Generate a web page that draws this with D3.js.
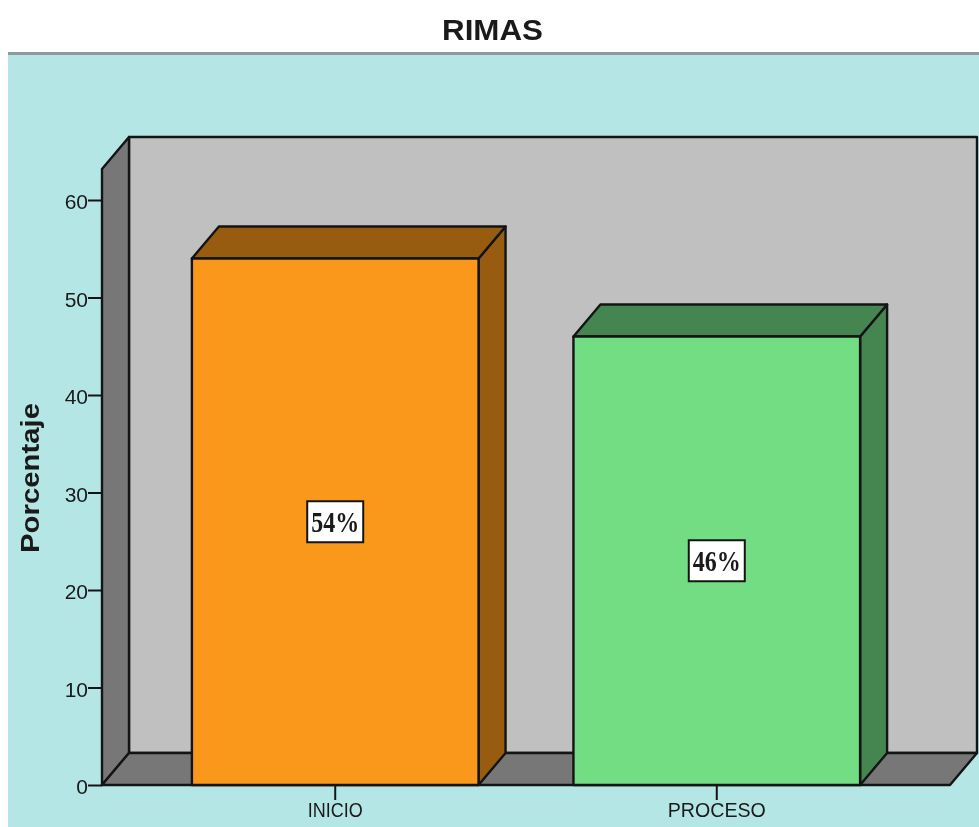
<!DOCTYPE html>
<html>
<head>
<meta charset="utf-8">
<script src="https://cdn.jsdelivr.net/npm/d3@7"></script>
<style>
html,body{margin:0;padding:0;background:#fff;overflow:hidden}
svg{display:block;filter:blur(0.45px)}
text{font-family:"Liberation Sans",Arial,sans-serif;fill:#1a1a1a}
</style>
</head>
<body>
<svg id="c" width="979" height="827"></svg>
<script>
const categories = ["INICIO", "PROCESO"];
const values = [54, 46];
const labels = ["54%", "46%"];
const yTicks = [0, 10, 20, 30, 40, 50, 60];
const frontColors = ["#FA981C", "#73DD84"];
const sideColors = ["#985C11", "#458650"];
const topColors = ["#985C11", "#458650"];

const dx = 27, dy = 32;
const stroke = "#141414";
const svg = d3.select("#c");
const y = d3.scaleLinear().domain([0, 60]).range([785, 200]);
const x = d3.scaleBand().domain(categories).range([102, 950]).paddingInner(0.2487).paddingOuter(0.2356);
const yTop = 169;

const poly = (pts, fill, sw = 2.4) => svg.append("path")
  .attr("d", d3.line()(pts) + "Z").attr("fill", fill)
  .attr("stroke", stroke).attr("stroke-width", sw).attr("stroke-linejoin", "round");

// page background
svg.append("rect").attr("x", 8).attr("y", 55).attr("width", 971).attr("height", 772).attr("fill", "#B5E6E6");
svg.append("rect").attr("x", 8).attr("y", 52).attr("width", 971).attr("height", 3).attr("fill", "#8f9a9a");

// title
svg.append("text").attr("x", 492.5).attr("y", 39.5).attr("text-anchor", "middle")
  .attr("font-size", 29.5).attr("font-weight", "bold").attr("textLength", 101).attr("lengthAdjust", "spacingAndGlyphs").text("RIMAS");

// 3D box
const [xL, xR] = x.range();
poly([[xL + dx, yTop - dy], [xR + dx, yTop - dy], [xR + dx, y(0) - dy], [xL + dx, y(0) - dy]], "#C0C0C0");
poly([[xL, yTop], [xL + dx, yTop - dy], [xL + dx, y(0) - dy], [xL, y(0)]], "#777777");
poly([[xL, y(0)], [xL + dx, y(0) - dy], [xR + dx, y(0) - dy], [xR, y(0)]], "#777777");

// bars
categories.forEach((c, i) => {
  const x0 = x(c), x1 = x0 + x.bandwidth(), yv = y(values[i]), yb = y(0);
  poly([[x1, yv], [x1 + dx, yv - dy], [x1 + dx, yb - dy], [x1, yb]], sideColors[i]);
  poly([[x0, yv], [x0 + dx, yv - dy], [x1 + dx, yv - dy], [x1, yv]], topColors[i]);
  poly([[x0, yv], [x1, yv], [x1, yb], [x0, yb]], frontColors[i]);
});

// axes
const yAxis = svg.append("g").attr("transform", `translate(${xL},0)`)
  .call(d3.axisLeft(y).tickValues(yTicks).tickSize(14).tickPadding(0));
yAxis.select(".domain").remove();
yAxis.selectAll("line").attr("stroke", stroke).attr("stroke-width", 2);
yAxis.selectAll("text").attr("font-size", 21).attr("dy", "0.42em").attr("font-family", '"Liberation Sans"').attr("fill", "#1a1a1a");

const xAxis = svg.append("g").attr("transform", `translate(0,${y(0)})`)
  .call(d3.axisBottom(x).tickSize(15).tickPadding(1));
xAxis.select(".domain").remove();
xAxis.selectAll("line").attr("stroke", stroke).attr("stroke-width", 2);
xAxis.selectAll("text").attr("font-size", 20.5).attr("dy", "0.76em").attr("font-family", '"Liberation Sans"').attr("fill", "#1a1a1a")
  .attr("lengthAdjust", "spacingAndGlyphs").attr("textLength", d => d === "INICIO" ? 55 : 98);

// y title
svg.append("text").attr("transform", "translate(39,478) rotate(-90)").attr("text-anchor", "middle")
  .attr("font-size", 25).attr("font-weight", "bold").attr("textLength", 150).attr("lengthAdjust", "spacingAndGlyphs").text("Porcentaje");

// value labels
categories.forEach((c, i) => {
  const cx = x(c) + x.bandwidth() / 2, cy = y(values[i] / 2);
  svg.append("rect").attr("x", cx - 28).attr("y", cy - 20.5).attr("width", 56).attr("height", 41)
    .attr("fill", "#fff").attr("stroke", stroke).attr("stroke-width", 2);
  svg.append("text").attr("x", cx).attr("y", cy + 10.5).attr("text-anchor", "middle")
    .style("font-family", '"Liberation Serif",serif').attr("font-size", 30).attr("font-weight", "bold")
    .attr("textLength", 48).attr("lengthAdjust", "spacingAndGlyphs").text(labels[i]);
});
</script>
</body>
</html>
